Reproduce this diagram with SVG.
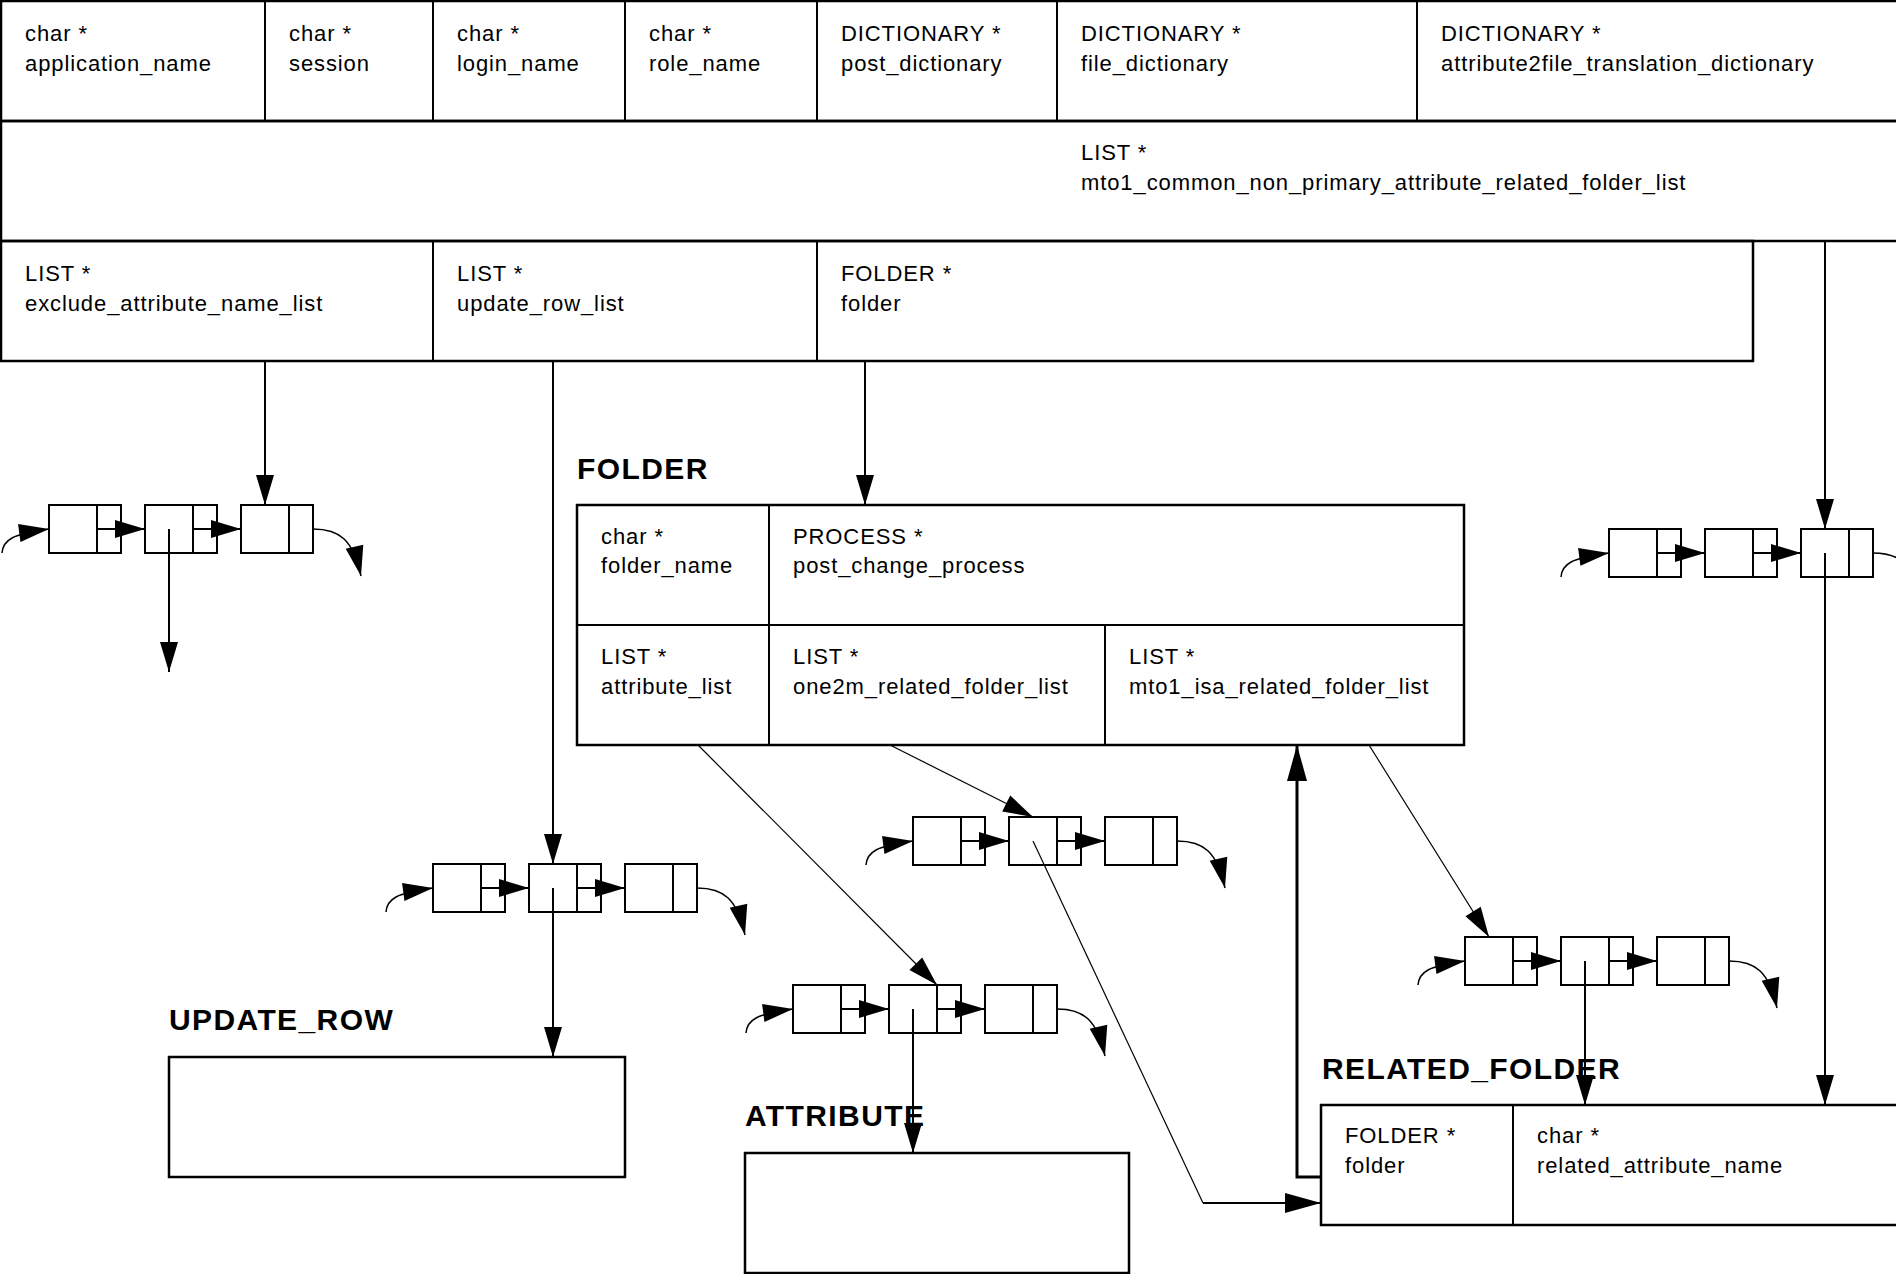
<svg xmlns="http://www.w3.org/2000/svg" width="1896" height="1274" viewBox="0 0 1896 1274">
<defs>
<style>
.box{fill:none;stroke:#000;stroke-width:2.5}
.dv{stroke:#000;stroke-width:2}
.t{font-family:"Liberation Sans",Arial,Helvetica,sans-serif;font-size:22px;letter-spacing:0.9px;fill:#000}
.lbl{font-family:"Liberation Sans",Arial,Helvetica,sans-serif;font-size:30px;font-weight:bold;letter-spacing:1.4px;fill:#000}
.nd{fill:none;stroke:#000;stroke-width:2}
.c{fill:none;stroke:#000;stroke-width:2}
.thin{fill:none;stroke:#000;stroke-width:1.2}
.thick{fill:none;stroke:#000;stroke-width:3}
.cv{fill:none;stroke:#000;stroke-width:1.5}
</style>
<marker id="ah" markerUnits="userSpaceOnUse" markerWidth="30" markerHeight="18" refX="30" refY="9" orient="auto" overflow="visible">
<path d="M0,0 L30,9 L0,18 z" fill="#000"/>
</marker>
<marker id="ahb" markerUnits="userSpaceOnUse" markerWidth="36" markerHeight="20" refX="36" refY="10" orient="auto" overflow="visible">
<path d="M0,0 L36,10 L0,20 z" fill="#000"/>
</marker>
</defs>
<rect width="1896" height="1274" fill="#fff"/>

<g id="top_struct">
<rect class="box" x="1" y="1" width="1910" height="120"/>
<rect class="box" x="1" y="121" width="1910" height="120"/>
<rect class="box" x="1" y="241" width="1752" height="120"/>
<line class="dv" x1="265" y1="1" x2="265" y2="121"/>
<line class="dv" x1="433" y1="1" x2="433" y2="121"/>
<line class="dv" x1="625" y1="1" x2="625" y2="121"/>
<line class="dv" x1="817" y1="1" x2="817" y2="121"/>
<line class="dv" x1="1057" y1="1" x2="1057" y2="121"/>
<line class="dv" x1="1417" y1="1" x2="1417" y2="121"/>
<line class="dv" x1="433" y1="241" x2="433" y2="361"/>
<line class="dv" x1="817" y1="241" x2="817" y2="361"/>
<text class="t" x="25" y="40.5">char *</text>
<text class="t" x="25" y="70.5">application_name</text>
<text class="t" x="289" y="40.5">char *</text>
<text class="t" x="289" y="70.5">session</text>
<text class="t" x="457" y="40.5">char *</text>
<text class="t" x="457" y="70.5">login_name</text>
<text class="t" x="649" y="40.5">char *</text>
<text class="t" x="649" y="70.5">role_name</text>
<text class="t" x="841" y="40.5">DICTIONARY *</text>
<text class="t" x="841" y="70.5">post_dictionary</text>
<text class="t" x="1081" y="40.5">DICTIONARY *</text>
<text class="t" x="1081" y="70.5">file_dictionary</text>
<text class="t" x="1441" y="40.5">DICTIONARY *</text>
<text class="t" x="1441" y="70.5">attribute2file_translation_dictionary</text>
<text class="t" x="1081" y="160">LIST *</text>
<text class="t" x="1081" y="190">mto1_common_non_primary_attribute_related_folder_list</text>
<text class="t" x="25" y="280.5">LIST *</text>
<text class="t" x="25" y="310.5">exclude_attribute_name_list</text>
<text class="t" x="457" y="280.5">LIST *</text>
<text class="t" x="457" y="310.5">update_row_list</text>
<text class="t" x="841" y="280.5">FOLDER *</text>
<text class="t" x="841" y="310.5">folder</text>
</g>

<g id="folder">
<text class="lbl" x="577" y="479">FOLDER</text>
<rect class="box" x="577" y="505" width="887" height="240"/>
<line class="dv" x1="577" y1="625" x2="1464" y2="625"/>
<line class="dv" x1="769" y1="505" x2="769" y2="745"/>
<line class="dv" x1="1105" y1="625" x2="1105" y2="745"/>
<text class="t" x="601" y="544">char *</text>
<text class="t" x="601" y="573">folder_name</text>
<text class="t" x="793" y="544">PROCESS *</text>
<text class="t" x="793" y="573">post_change_process</text>
<text class="t" x="601" y="664">LIST *</text>
<text class="t" x="601" y="694">attribute_list</text>
<text class="t" x="793" y="664">LIST *</text>
<text class="t" x="793" y="694">one2m_related_folder_list</text>
<text class="t" x="1129" y="664">LIST *</text>
<text class="t" x="1129" y="694">mto1_isa_related_folder_list</text>
</g>

<g id="update_row">
<text class="lbl" x="169" y="1030">UPDATE_ROW</text>
<rect class="box" x="169" y="1057" width="456" height="120"/>
</g>

<g id="attribute">
<text class="lbl" x="745" y="1126">ATTRIBUTE</text>
<rect class="box" x="745" y="1153" width="384" height="120"/>
</g>

<g id="related_folder">
<text class="lbl" x="1322" y="1079">RELATED_FOLDER</text>
<rect class="box" x="1321" y="1105" width="600" height="120"/>
<line class="dv" x1="1513" y1="1105" x2="1513" y2="1225"/>
<text class="t" x="1345" y="1143">FOLDER *</text>
<text class="t" x="1345" y="1173">folder</text>
<text class="t" x="1537" y="1143">char *</text>
<text class="t" x="1537" y="1173">related_attribute_name</text>
</g>

<g id="list_exclude">
<rect class="nd" x="49" y="505" width="72" height="48"/><line class="dv" x1="97" y1="505" x2="97" y2="553"/>
<rect class="nd" x="145" y="505" width="72" height="48"/><line class="dv" x1="193" y1="505" x2="193" y2="553"/>
<rect class="nd" x="241" y="505" width="72" height="48"/><line class="dv" x1="289" y1="505" x2="289" y2="553"/>
</g>
<g id="list_mto1_common">
<rect class="nd" x="1609" y="529" width="72" height="48"/><line class="dv" x1="1657" y1="529" x2="1657" y2="577"/>
<rect class="nd" x="1705" y="529" width="72" height="48"/><line class="dv" x1="1753" y1="529" x2="1753" y2="577"/>
<rect class="nd" x="1801" y="529" width="72" height="48"/><line class="dv" x1="1849" y1="529" x2="1849" y2="577"/>
</g>
<g id="list_update_row">
<rect class="nd" x="433" y="864" width="72" height="48"/><line class="dv" x1="481" y1="864" x2="481" y2="912"/>
<rect class="nd" x="529" y="864" width="72" height="48"/><line class="dv" x1="577" y1="864" x2="577" y2="912"/>
<rect class="nd" x="625" y="864" width="72" height="48"/><line class="dv" x1="673" y1="864" x2="673" y2="912"/>
</g>
<g id="list_one2m">
<rect class="nd" x="913" y="817" width="72" height="48"/><line class="dv" x1="961" y1="817" x2="961" y2="865"/>
<rect class="nd" x="1009" y="817" width="72" height="48"/><line class="dv" x1="1057" y1="817" x2="1057" y2="865"/>
<rect class="nd" x="1105" y="817" width="72" height="48"/><line class="dv" x1="1153" y1="817" x2="1153" y2="865"/>
</g>
<g id="list_attribute">
<rect class="nd" x="793" y="985" width="72" height="48"/><line class="dv" x1="841" y1="985" x2="841" y2="1033"/>
<rect class="nd" x="889" y="985" width="72" height="48"/><line class="dv" x1="937" y1="985" x2="937" y2="1033"/>
<rect class="nd" x="985" y="985" width="72" height="48"/><line class="dv" x1="1033" y1="985" x2="1033" y2="1033"/>
</g>
<g id="list_mto1_isa">
<rect class="nd" x="1465" y="937" width="72" height="48"/><line class="dv" x1="1513" y1="937" x2="1513" y2="985"/>
<rect class="nd" x="1561" y="937" width="72" height="48"/><line class="dv" x1="1609" y1="937" x2="1609" y2="985"/>
<rect class="nd" x="1657" y="937" width="72" height="48"/><line class="dv" x1="1705" y1="937" x2="1705" y2="985"/>
</g>

<g id="connectors">
<line class="c" x1="97" y1="529" x2="145" y2="529" marker-end="url(#ah)"/>
<line class="c" x1="193" y1="529" x2="241" y2="529" marker-end="url(#ah)"/>
<line class="c" x1="1657" y1="553" x2="1705" y2="553" marker-end="url(#ah)"/>
<line class="c" x1="1753" y1="553" x2="1801" y2="553" marker-end="url(#ah)"/>
<line class="c" x1="481" y1="888" x2="529" y2="888" marker-end="url(#ah)"/>
<line class="c" x1="577" y1="888" x2="625" y2="888" marker-end="url(#ah)"/>
<line class="c" x1="961" y1="841" x2="1009" y2="841" marker-end="url(#ah)"/>
<line class="c" x1="1057" y1="841" x2="1105" y2="841" marker-end="url(#ah)"/>
<line class="c" x1="841" y1="1009" x2="889" y2="1009" marker-end="url(#ah)"/>
<line class="c" x1="937" y1="1009" x2="985" y2="1009" marker-end="url(#ah)"/>
<line class="c" x1="1513" y1="961" x2="1561" y2="961" marker-end="url(#ah)"/>
<line class="c" x1="1609" y1="961" x2="1657" y2="961" marker-end="url(#ah)"/>
<path class="cv" d="M2,553 C3,540 12,534 49,529" marker-end="url(#ah)"/>
<path class="cv" d="M1561,577 C1562,564 1571,558 1609,553" marker-end="url(#ah)"/>
<path class="cv" d="M386,912 C387,899 396,893 433,888" marker-end="url(#ah)"/>
<path class="cv" d="M866,865 C867,852 876,846 913,841" marker-end="url(#ah)"/>
<path class="cv" d="M746,1033 C747,1020 756,1014 793,1009" marker-end="url(#ah)"/>
<path class="cv" d="M1418,985 C1419,972 1428,966 1465,961" marker-end="url(#ah)"/>
<path class="cv" d="M313,529 C340,529 353,540 361,576" marker-end="url(#ah)"/>
<path class="cv" d="M1873,553 C1900,553 1913,564 1921,600" marker-end="url(#ah)"/>
<path class="cv" d="M697,888 C724,888 737,899 745,935" marker-end="url(#ah)"/>
<path class="cv" d="M1177,841 C1204,841 1217,852 1225,888" marker-end="url(#ah)"/>
<path class="cv" d="M1057,1009 C1084,1009 1097,1020 1105,1056" marker-end="url(#ah)"/>
<path class="cv" d="M1729,961 C1756,961 1769,972 1777,1008" marker-end="url(#ah)"/>
<line class="c" x1="265" y1="361" x2="265" y2="505" marker-end="url(#ah)"/>
<line class="c" x1="553" y1="361" x2="553" y2="864" marker-end="url(#ah)"/>
<line class="c" x1="865" y1="361" x2="865" y2="505" marker-end="url(#ah)"/>
<line class="c" x1="1825" y1="241" x2="1825" y2="529" marker-end="url(#ah)"/>
<line class="c" x1="169" y1="529" x2="169" y2="672" marker-end="url(#ah)"/>
<line class="c" x1="1825" y1="553" x2="1825" y2="1105" marker-end="url(#ah)"/>
<line class="c" x1="553" y1="888" x2="553" y2="1057" marker-end="url(#ah)"/>
<line class="c" x1="913" y1="1009" x2="913" y2="1153" marker-end="url(#ah)"/>
<line class="c" x1="1585" y1="961" x2="1585" y2="1105" marker-end="url(#ah)"/>
<path class="thin" d="M1033,841 L1203,1203"/>
<line class="c" x1="1203" y1="1203" x2="1321" y2="1203" marker-end="url(#ahb)"/>
<line class="thin" x1="698" y1="745" x2="937" y2="985" marker-end="url(#ah)"/>
<line class="thin" x1="890" y1="745" x2="1033" y2="817" marker-end="url(#ah)"/>
<line class="thin" x1="1369" y1="745" x2="1489" y2="937" marker-end="url(#ah)"/>
<path class="thick" d="M1321,1177 L1297,1177 L1297,745" marker-end="url(#ahb)"/>
</g>
</svg>
